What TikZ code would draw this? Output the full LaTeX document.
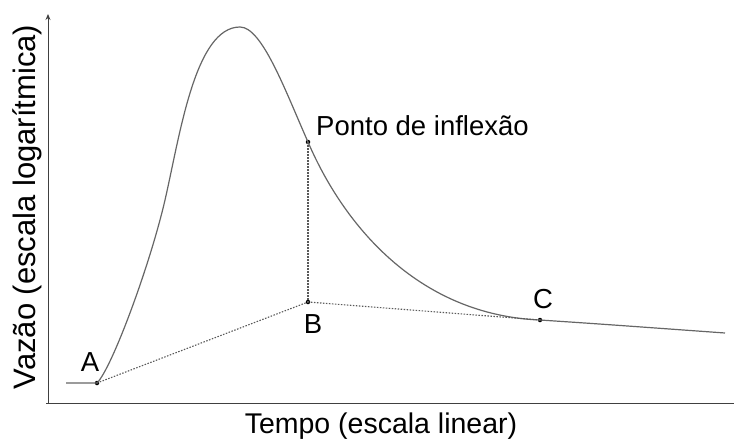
\documentclass[tikz,border=0pt]{standalone}
\usepackage{fontspec}
\setmainfont{Liberation Sans}
\usepackage{tikz}
\usetikzlibrary{arrows.meta}

\tikzset{
  eixo/.style={draw=black!75, line width=0.9pt},
  curva/.style={draw=black!60, line width=1.2pt},
  pontilhado/.style={draw=black!65, line width=1.1pt, dash pattern=on 1.5pt off 1.5pt},
  ponto/.style={circle, fill=black, inner sep=0pt, minimum size=4.5pt},
  rotulo/.style={inner sep=0pt, font=\fontsize{27.5}{33}\selectfont}
}

\begin{document}
\begin{tikzpicture}[x=1pt, y=-1pt]
    \useasboundingbox (0, 0) rectangle (734, 439);

    % eixos
    \coordinate (O) at (48, 403);
    \coordinate (Ytopo) at (48, 14);
    \coordinate (Xini) at (46, 403);
    \coordinate (Xfim) at (734, 403);
    \draw[eixo, -{Stealth[length=6pt, width=5pt]}] (O)--(Ytopo);
    \draw[eixo] (Xini)--(Xfim);

    % pontos
    \coordinate (base) at (66, 383);
    \node[ponto] (A) at (97, 383){};
    \node[ponto] (P) at (308, 142){};
    \node[ponto] (B) at (308, 302){};
    \node[ponto] (C) at (540, 320){};
    \coordinate (subida) at (165, 200);
    \coordinate (pico) at (240, 27);
    \coordinate (fim) at (725, 333);

    % hidrograma
    \draw[curva] (base)--(A.center)
      .. controls (112, 368) and (150, 265) .. (subida)
      .. controls (180, 135) and (195, 27) .. (pico)
      .. controls (262, 27) and (285, 90) .. (P.center)
      .. controls (345, 228) and (420, 315) .. (C.center)
      .. controls (600, 324) .. (fim);

    % separacao do escoamento
    \draw[pontilhado] (A.center)--(B.center);
    \draw[pontilhado] (B.center)--(C.center);
    \draw[pontilhado] (P.center)--(B.center);

    \node[rotulo] (rA) at (90, 362){A};
    \node[rotulo] (rB) at (313, 324){B};
    \node[rotulo] (rC) at (543, 299){C};
    \node[rotulo, anchor=base west] (rP) at (316, 135){Ponto de inflexão};

    \node[rotulo, font=\fontsize{28.5}{34}\selectfont, anchor=base] (rX) at (381, 433){Tempo (escala linear)};
    \node[rotulo, font=\fontsize{31}{37}\selectfont, rotate=90, anchor=base] (rY) at (35, 207){Vazão (escala logarítmica)};

  \end{tikzpicture}
\end{document}
